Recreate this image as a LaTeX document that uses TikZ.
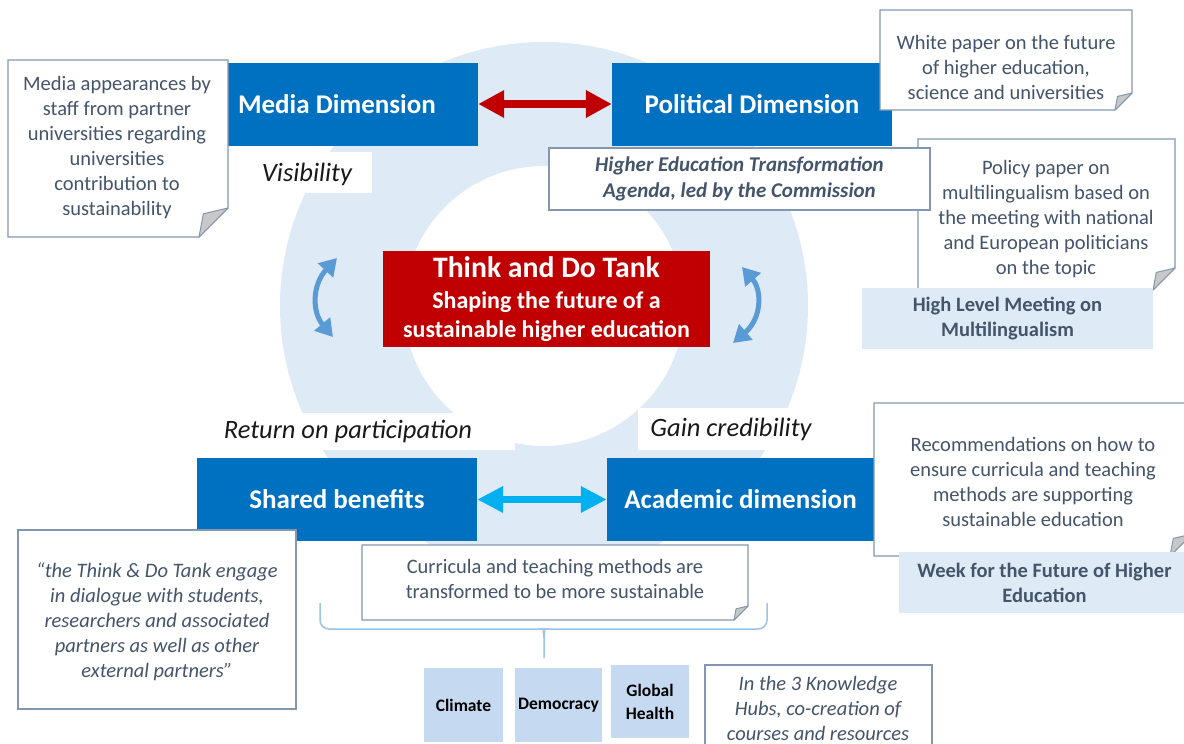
\documentclass[tikz,border=0pt]{standalone}
\usepackage{fontspec}
\setmainfont{Carlito}
\usetikzlibrary{arrows.meta}

\definecolor{dimblue}{RGB}{0,112,192}
\definecolor{tankred}{RGB}{192,0,0}
\definecolor{ringblue}{RGB}{222,235,247}
\definecolor{notegray}{RGB}{68,84,106}
\definecolor{noteline}{RGB}{132,151,176}
\definecolor{hubblue}{RGB}{197,218,240}
\definecolor{linkcyan}{RGB}{0,176,240}
\definecolor{swirl}{RGB}{91,155,213}
\definecolor{foldgray}{RGB}{200,200,200}
\definecolor{bracecol}{RGB}{157,195,230}

\tikzset{
  dimbox/.style={fill=dimblue, text=white, minimum height=83pt, inner sep=0pt,
    font=\bfseries\fontsize{27}{32}\selectfont},
  tankbox/.style={fill=tankred, text=white, minimum width=327pt, minimum height=96pt,
    inner sep=0pt, align=center, font=\bfseries\fontsize{24}{29}\selectfont},
  tag/.style={text=black!90, inner sep=0pt, font=\itshape\fontsize{26.5}{31}\selectfont},
  notebox/.style={draw=noteline, fill=white, line width=1.2pt},
  foldtip/.style={draw=noteline, fill=foldgray, line width=1pt, line join=round},
  notetext/.style={text=notegray, align=center, inner sep=0pt, font=\fontsize{20.5}{25}\selectfont},
  noteital/.style={notetext, font=\itshape\fontsize{20.5}{25}\selectfont},
  plainnote/.style={notebox, inner sep=0pt},
  hlbox/.style={fill=ringblue, text=notegray, align=center, inner sep=0pt,
    minimum width=291pt, minimum height=61pt, font=\bfseries\fontsize{20.5}{25}\selectfont},
  hub/.style={fill=hubblue, inner sep=0pt, align=center, font=\bfseries\fontsize{17.5}{23}\selectfont},
  redlink/.style={tankred, line width=8pt, {Triangle[width=26pt,length=26pt]}-{Triangle[width=26pt,length=26pt]}},
  cyanlink/.style={linkcyan, line width=7pt, {Triangle[width=25pt,length=26pt]}-{Triangle[width=25pt,length=26pt]}},
  swirlarrow/.style={swirl, line width=5pt, {Triangle[width=20pt,length=17pt]}-{Triangle[width=20pt,length=17pt]}},
  braceline/.style={draw=bracecol, line width=1.5pt, rounded corners=9pt}
}

\newcommand{\foldnote}[5]{%
  \filldraw[notebox] (#1,#2) -- (#3,#2) -- (#3,#4-#5) -- (#3-#5,#4) -- (#1,#4) -- cycle;
  \filldraw[foldtip] (#3,#4-#5) -- (#3-0.85*#5,#4-0.8*#5) -- (#3-#5,#4) -- cycle;}

\begin{document}
\begin{tikzpicture}[x=1pt,y=-1pt]
\useasboundingbox (0,0) rectangle (1184,744);
\fill[white] (0,0) rectangle (1184,744);
\fill[ringblue, even odd rule] (544,306) circle (264pt) (544,306) circle (140pt);

\fill[white] (230,152) rectangle (372,193);
\node[tag] (vis) at (307,174) {Visibility};
\fill[white] (215,413) rectangle (515,450);
\node[tag] (rop) at (348,431) {Return on participation};
\fill[white] (638,408) rectangle (815,450);
\node[tag] (gain) at (731,429) {Gain credibility};

\coordinate (lt) at (337,258);
\coordinate (lb) at (333,337);
\draw[swirlarrow] (lt) .. controls (312,285) and (312,312) .. (lb);
\coordinate (rt) at (742,267);
\coordinate (rb) at (733,343);
\draw[swirlarrow] (rt) .. controls (762,290) and (762,318) .. (rb);

\node[tankbox] (tank) at (546.5,299) {{\fontsize{29.7}{34}\selectfont Think and Do Tank}\\[2pt]
  Shaping the future of a\\ sustainable higher education};

\node[dimbox, minimum width=250pt, text width=230pt, align=flush left] (media) at (353,104) {Media Dimension};
\node[dimbox, minimum width=280pt] (political) at (752,104) {Political Dimension};
\node[dimbox, minimum width=280pt] (shared) at (337,499.5) {Shared benefits};
\node[dimbox, minimum width=267pt] (academic) at (740.5,499.5) {Academic dimension};
\draw[redlink] (media) -- (political);
\draw[cyanlink] (shared) -- (academic);

\foldnote{8}{60}{228}{237}{29}
\node[notetext] (medianote) at (117,148) {Media appearances by\\ staff from partner\\ universities regarding\\ universities\\ contribution to\\ sustainability};

\foldnote{880}{10}{1132}{110}{17}
\node[notetext] (whitepaper) at (1006,67) {White paper on the future\\ of higher education,\\ science and universities};

\foldnote{918}{139}{1175}{290}{22}
\node[notetext] (policy) at (1046,219) {Policy paper on\\ multilingualism based on\\ the meeting with national\\ and European politicians\\ on the topic};

\node[plainnote, minimum width=381pt, minimum height=62pt, text=notegray, align=center,
  font=\bfseries\itshape\fontsize{21}{26}\selectfont] (agenda) at (739.5,179)
  {Higher Education Transformation\\ Agenda, led by the Commission};

\node[hlbox] (hlm) at (1007.5,318.5) {High Level Meeting on\\ Multilingualism};

\foldnote{874}{403}{1192}{556}{22}
\node[notetext] (recom) at (1033,482) {Recommendations on how to\\ ensure curricula and teaching\\ methods are supporting\\ sustainable education};

\node[hlbox] (week) at (1044.5,582.5) {Week for the Future of Higher\\ Education};

\node[plainnote, minimum width=278pt, minimum height=179pt] (quotebox) at (157,619.5) {};
\node[noteital] (quote) at (157,622) {“the Think \& Do Tank engage\\ in dialogue with students,\\ researchers and associated\\ partners as well as other\\ external partners”};

\foldnote{362}{545}{748}{620}{14}
\node[notetext] (curricula) at (555,579) {Curricula and teaching methods are\\ transformed to be more sustainable};

\coordinate (bl) at (320,603);
\coordinate (br) at (767,603);
\coordinate (btip) at (544,658);
\draw[braceline] (bl) -- (320,629) -- (537,629) to[out=0,in=90,rounded corners=0pt] (544,638) -- (btip);
\draw[braceline] (br) -- (767,629) -- (551,629) to[out=180,in=90,rounded corners=0pt] (544,638);

\node[hub, minimum width=79pt, minimum height=74pt] (climate) at (463.5,705) {Climate};
\node[hub, minimum width=87pt, minimum height=74pt] (democracy) at (558.5,705) {Democracy};
\node[hub, minimum width=78pt, minimum height=73pt] (health) at (650,701.5) {Global\\ Health};

\draw[notebox] (705,665) rectangle (932,760);
\node[noteital] (hubs) at (818,708) {In the 3 Knowledge\\ Hubs, co-creation of\\ courses and resources};
\end{tikzpicture}
\end{document}
